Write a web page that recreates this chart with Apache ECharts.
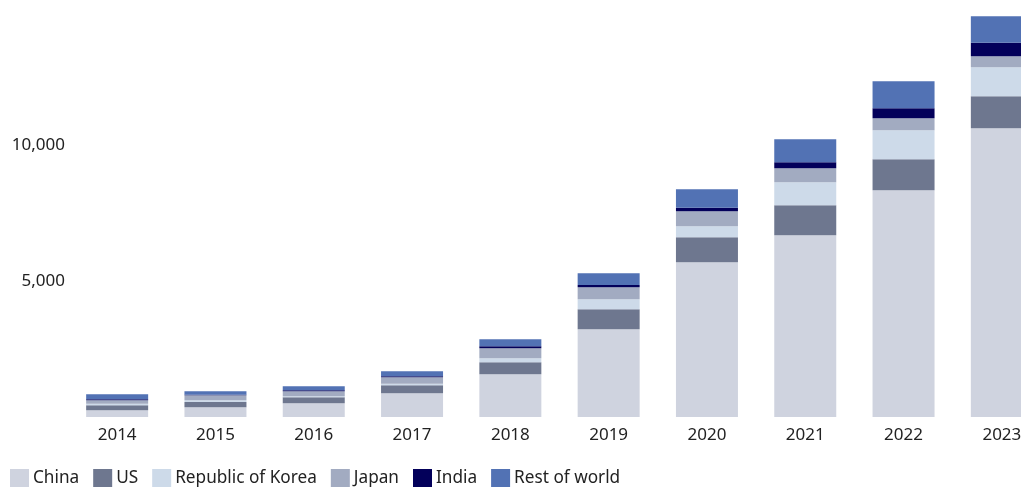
<!DOCTYPE html>
<html>
<head>
<meta charset="utf-8">
<script src="https://cdn.jsdelivr.net/npm/echarts@6/dist/echarts.min.js"></script>
<style>
  html, body { margin: 0; padding: 0; background: #fff; }
  #chart { width: 1021px; height: 487px; }
</style>
</head>
<body>
<div id="chart"></div>
<script>
const years = ["2014", "2015", "2016", "2017", "2018", "2019", "2020", "2021", "2022", "2023"];

const china = [245, 355, 504, 875, 1570, 3224, 5687, 6679, 8333, 10613];
const us = [184, 196, 221, 294, 441, 735, 919, 1103, 1140, 1176];
const korea = [61, 61, 37, 49, 147, 368, 404, 845, 1066, 1066];
const japan = [123, 184, 184, 245, 368, 441, 551, 515, 441, 404];
const india = [37, 20, 37, 37, 74, 85, 136, 221, 368, 504];
const restOfWorld = [184, 130, 147, 184, 257, 430, 673, 845, 993, 967];

const names = ["China", "US", "Republic of Korea", "Japan", "India", "Rest of world"];
const colors = ["#cfd3df", "#6e778f", "#cddae9", "#a2abc1", "#03005a", "#5272b4"];
const values = [china, us, korea, japan, india, restOfWorld];

const chart = echarts.init(document.getElementById("chart"), null, { renderer: "canvas" });

// the last column runs past the right edge, as in the source
chart.setOption({
  animation: false,
  textStyle: { fontFamily: "Noto Sans" },
  grid: { left: 68, width: 983, top: 9, bottom: 70, outerBoundsMode: "none" },
  legend: {
    left: 10,
    bottom: 0,
    padding: 0,
    itemWidth: 19,
    itemHeight: 18,
    itemGap: 14,
    icon: "rect",
    textStyle: { fontSize: 17.2, color: "#222", padding: [0, 0, 0, -1] },
    data: names,
  },
  xAxis: {
    type: "category",
    data: years,
    axisLine: { show: false },
    axisTick: { show: false },
    axisLabel: { fontSize: 17, color: "#222", margin: 10 },
  },
  yAxis: {
    type: "value",
    min: 0,
    max: 15000,
    interval: 5000,
    splitLine: { show: false },
    axisLine: { show: false },
    axisTick: { show: false },
    axisLabel: {
      fontSize: 17,
      color: "#222",
      margin: 3,
      formatter: (v) => (v === 0 || v === 15000 ? "" : v.toLocaleString("en-US")),
    },
  },
  series: names.map((name, i) => ({
    name,
    type: "bar",
    stack: "total",
    barWidth: 62,
    itemStyle: { color: colors[i] },
    data: values[i],
  })),
});
</script>
</body>
</html>
